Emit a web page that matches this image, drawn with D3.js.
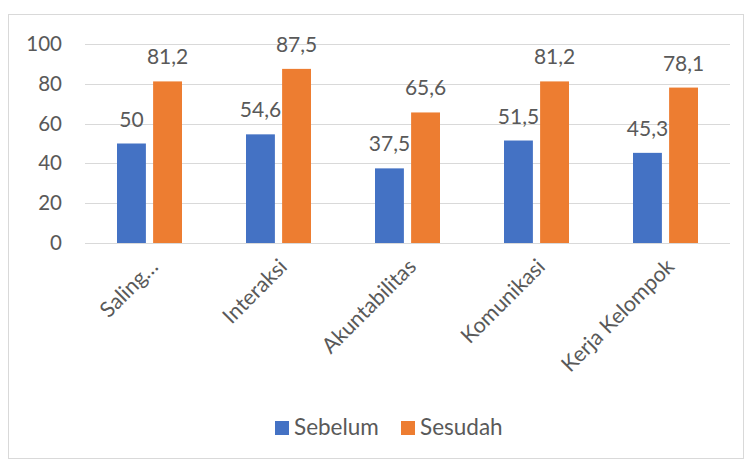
<!DOCTYPE html>
<html><head><meta charset="utf-8">
<script src="https://cdn.jsdelivr.net/npm/d3@7"></script>
<style>body{margin:0;background:#fff}</style>
</head><body>
<svg id="c" width="746" height="460"></svg>
<script>
const categories = ["Saling…", "Interaksi", "Akuntabilitas", "Komunikasi", "Kerja Kelompok"];
const seriesNames = ["Sebelum", "Sesudah"];
const sebelum = [50, 54.6, 37.5, 51.5, 45.3];
const sesudah = [81.2, 87.5, 65.6, 81.2, 78.1];
const yTicks = [0, 20, 40, 60, 80, 100];
const colors = ["#4472C4", "#ED7D31"];

const svg = d3.select("#c");
const font = "Lato, 'Open Sans', sans-serif";
const textColor = "#595959";

svg.append("rect").attr("x", 8.5).attr("y", 14.5).attr("width", 735).attr("height", 444)
  .attr("fill", "#fff").attr("stroke", "#d9d9d9");

const x0 = d3.scaleBand().domain(categories).range([85, 730]).padding(0);
const x1 = d3.scaleBand().domain(seriesNames).range([-32.5, 32.5]).paddingInner(0.2).paddingOuter(0);
const y = d3.scaleLinear().domain([0, 100]).range([243, 44]);

// gridlines
svg.append("g").selectAll("line").data(yTicks).join("line")
  .attr("x1", 85).attr("x2", 730)
  .attr("y1", d => Math.round(y(d)) + 0.5).attr("y2", d => Math.round(y(d)) + 0.5)
  .attr("stroke", "#d9d9d9").attr("stroke-width", 1.2);

// y axis labels
const yAxis = d3.axisLeft(y).tickValues(yTicks).tickSize(0).tickPadding(0);
const ya = svg.append("g").attr("transform", "translate(62,0)").call(yAxis);
ya.select(".domain").remove();
ya.selectAll("text").attr("font-family", font).attr("font-size", 20.5).attr("fill", textColor);

const data = categories.map((c, i) => ({cat: c, vals: [sebelum[i], sesudah[i]]}));
const groups = svg.append("g").selectAll("g").data(data).join("g")
  .attr("transform", d => `translate(${x0(d.cat) + x0.bandwidth() / 2},0)`);

groups.selectAll("rect").data(d => d.vals.map((v, j) => ({s: seriesNames[j], v, j}))).join("rect")
  .attr("x", d => x1(d.s)).attr("width", x1.bandwidth())
  .attr("y", d => y(d.v)).attr("height", d => y(0) - y(d.v))
  .attr("fill", d => colors[d.j]);

groups.selectAll("text.lbl").data(d => d.vals.map((v, j) => ({s: seriesNames[j], v, j}))).join("text")
  .attr("class", "lbl")
  .attr("x", d => x1(d.s) + x1.bandwidth() / 2).attr("y", d => y(d.v) - 17)
  .attr("text-anchor", "middle").attr("font-family", font).attr("font-size", 21).attr("fill", textColor)
  .text(d => String(d.v).replace(".", ","));

// x labels
svg.append("g").selectAll("text").data(categories).join("text")
  .attr("transform", d => `translate(${x0(d) + x0.bandwidth() / 2 + 10},${268}) rotate(-45)`)
  .attr("text-anchor", "end").attr("font-family", font).attr("font-size", 21.5).attr("fill", textColor)
  .text(d => d);

// legend
const lg = svg.append("g").attr("transform", "translate(275,421)");
const items = lg.selectAll("g").data(seriesNames).join("g")
  .attr("transform", (d, i) => `translate(${i * 126},0)`);
items.append("rect").attr("width", 14).attr("height", 14).attr("fill", (d, i) => colors[i]);
items.append("text").attr("x", 19).attr("y", 14).attr("font-family", font).attr("font-size", 22.5)
  .attr("fill", textColor).text(d => d);
</script>
</body></html>
